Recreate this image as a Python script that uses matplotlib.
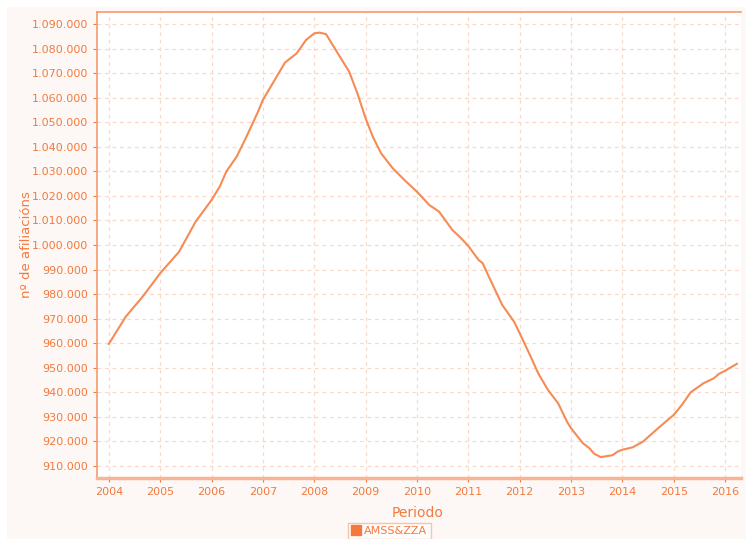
import matplotlib
matplotlib.use('Agg')
import matplotlib.pyplot as plt
from matplotlib.ticker import FuncFormatter, MultipleLocator
from matplotlib.patches import Rectangle
from matplotlib.lines import Line2D

# readings (year, thousands of affiliations)
periods = [2004.0, 2004.33, 2004.66, 2005.0, 2005.37, 2005.69, 2006.0, 2006.16,
           2006.29, 2006.49, 2006.68, 2006.91, 2007.0, 2007.23, 2007.43, 2007.66,
           2007.84, 2008.0, 2008.1, 2008.23, 2008.42, 2008.68, 2008.84, 2009.0,
           2009.14, 2009.3, 2009.53, 2009.79, 2010.0, 2010.24, 2010.43, 2010.69,
           2010.83, 2011.0, 2011.2, 2011.28, 2011.4, 2011.66, 2011.89, 2012.0,
           2012.2, 2012.36, 2012.55, 2012.75, 2012.92, 2013.0, 2013.23, 2013.36,
           2013.45, 2013.58, 2013.81, 2013.91, 2014.0, 2014.2, 2014.4, 2014.73,
           2015.0, 2015.16, 2015.33, 2015.58, 2015.78, 2015.88, 2016.0, 2016.23]
afiliados = [959.7, 970.8, 979.0, 988.5, 997.3, 1009.5, 1018.3, 1023.8,
             1030.0, 1036.0, 1044.1, 1054.5, 1059.1, 1067.2, 1074.3, 1078.1,
             1083.5, 1086.2, 1086.5, 1085.9, 1079.4, 1070.6, 1061.8, 1051.6,
             1044.1, 1037.4, 1031.2, 1025.8, 1021.7, 1016.3, 1013.6, 1006.1,
             1003.4, 999.6, 993.9, 992.6, 987.1, 975.6, 968.8, 964.1,
             955.2, 947.8, 941.0, 935.5, 928.1, 925.4, 919.3, 917.2,
             915.0, 913.6, 914.4, 915.9, 916.6, 917.6, 919.9, 926.0,
             930.8, 934.9, 940.0, 943.7, 945.7, 947.5, 948.8, 951.6]
serie = 'AMSS&ZZA'
years = list(range(2004, 2017))

orange = '#f27a3e'
line_c = '#f58b55'
grid_c = '#fbd9c8'

fig = plt.figure(figsize=(7.46, 5.39), dpi=100, facecolor='white')
fig.patches.append(Rectangle((7 / 746, 0), 1, 1 - 7 / 539, transform=fig.transFigure,
                             facecolor='#fdf8f5', edgecolor='none', zorder=-10))

ax = fig.add_axes([97 / 746, 1 - 478 / 539, (741 - 97) / 746, (478 - 12) / 539])
ax.set_zorder(1)
ax.set_facecolor('white')
ax.plot(periods, [v * 1000 for v in afiliados], color=line_c, linewidth=1.5)

ax.set_xlim(2003.77, 2016.31)
ax.set_ylim(905100, 1094900)
ax.set_xticks(years)
ax.yaxis.set_major_locator(MultipleLocator(10000))
ax.yaxis.set_major_formatter(FuncFormatter(lambda v, p: f'{int(round(v)):,}'.replace(',', '.')))

ax.grid(True, color=grid_c, linestyle=(0, (3, 3)), linewidth=0.9)
ax.tick_params(colors=orange, labelsize=8, length=3, width=0.8, labelcolor=orange)
for s in ['top', 'left']:
    ax.spines[s].set_color('#f59a70')
    ax.spines[s].set_linewidth(1.2)
ax.spines['bottom'].set_color('#f8b596')
ax.spines['bottom'].set_linewidth(2.5)
ax.spines['right'].set_visible(False)

ax.set_xlabel('Periodo', color=orange, fontsize=10)
ax.set_ylabel('nº de afiliacións', color=orange, fontsize=9.5)
ax.xaxis.set_label_coords((418 - 97) / 644, -(506 - 478) / 466)
ax.yaxis.set_label_coords(-(97 - 33) / 644, 0.5)

handle = Line2D([], [], marker='s', linestyle='none', color=orange, markersize=7)
leg = fig.legend([handle], [serie], loc='lower left', bbox_to_anchor=(342 / 746, -6 / 539),
                 frameon=True, fontsize=8, labelcolor=orange, handletextpad=0.2,
                 borderpad=0.3, handlelength=1.0, fancybox=False)
leg.get_frame().set_edgecolor('#f8b596')
leg.get_frame().set_facecolor('white')

plt.savefig('out.png', dpi=100, facecolor=fig.get_facecolor())
